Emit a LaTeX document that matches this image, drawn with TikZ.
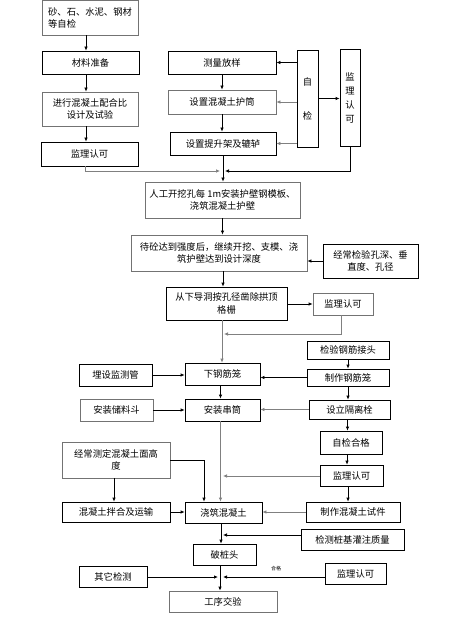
\documentclass[tikz,border=0pt]{standalone}
\usepackage{fontspec}
\setmainfont{Noto Sans CJK SC}
\usetikzlibrary{arrows.meta}
\begin{document}
\begin{tikzpicture}[x=1pt,y=-1pt,
  bx/.style={draw=black, line width=0.7pt, inner sep=1pt, font=\fontsize{9.3}{12.5}\selectfont, align=center},
  gbx/.style={bx, draw=black!55},
  ln/.style={line width=0.7pt},
  gl/.style={draw=black!50},
  arr/.style={ln, -{Latex[length=4pt,width=3.5pt]}},
  barr/.style={line width=1pt, -{Latex[length=4pt,width=3.5pt]}}]
\useasboundingbox[fill=white] (0,0) rectangle (456,620);

% junction points
\coordinate (j1L) at (220,171);
\coordinate (j1R) at (225,171);
\coordinate (j2) at (224,334);
\coordinate (j3) at (223,476);
\coordinate (j5) at (223,535);
\coordinate (j6L) at (218,577);
\coordinate (j6R) at (223,577);

% left column
\node[gbx, minimum width=96pt, minimum height=34.5pt, align=left] (A) at (90,17.75) {砂、石、水泥、钢材\\等自检};
\node[bx, minimum width=97pt, minimum height=23pt] (B) at (90.5,62.5) {材料准备};
\node[gbx, minimum width=96pt, minimum height=34pt] (C) at (90,109) {进行混凝土配合比\\设计及试验};
\node[bx, minimum width=97pt, minimum height=24pt] (D) at (89.5,154) {监理认可};

% middle top column
\node[bx, minimum width=108pt, minimum height=23pt] (E) at (222,62.5) {测量放样};
\node[gbx, minimum width=108pt, minimum height=24pt] (F) at (222,102) {设置混凝土护筒};
\node[bx, minimum width=106pt, minimum height=23pt] (G) at (223,143.5) {设置提升架及辘轳};
\node[bx, minimum width=21pt, minimum height=97pt] (H) at (307.5,98.5) {自\\[21.5pt]检};
\node[bx, minimum width=20pt, minimum height=97pt] (I) at (350,97.5) {监\\[1.5pt]理\\[1.5pt]认\\[1.5pt]可};

% main column
\node[gbx, minimum width=155pt, minimum height=36pt] (J) at (222.5,200) {人工开挖孔每 1m安装护壁钢模板、\\浇筑混凝土护壁};
\node[gbx, minimum width=176pt, minimum height=36pt] (K) at (219,253) {待砼达到强度后，继续开挖、支模、浇\\筑护壁达到设计深度};
\node[bx, minimum width=95pt, minimum height=34pt] (L) at (370.5,261) {经常检验孔深、垂\\直度、孔径};
\node[bx, minimum width=121pt, minimum height=33pt] (M) at (226.5,303.5) {从下导洞按孔径凿除拱顶\\格栅};
\node[gbx, minimum width=60pt, minimum height=22pt] (N) at (343,304) {监理认可};

\node[bx, minimum width=82pt, minimum height=18pt] (O) at (348,350) {检验钢筋接头};
\node[bx, minimum width=82pt, minimum height=17pt] (P) at (348,377.5) {制作钢筋笼};
\node[bx, minimum width=75pt, minimum height=22pt] (Q) at (222.5,374) {下钢筋笼};
\node[bx, minimum width=73pt, minimum height=22pt] (R) at (115.5,375) {埋设监测管};
\node[bx, minimum width=75pt, minimum height=22pt] (S) at (222.5,410) {安装串筒};
\node[gbx, minimum width=73pt, minimum height=22pt] (T) at (116.5,410) {安装储料斗};
\node[bx, minimum width=81pt, minimum height=19pt] (U) at (349.5,409.5) {设立隔离栓};
\node[bx, minimum width=62pt, minimum height=23pt] (V) at (351,442.5) {自检合格};
\node[gbx, minimum width=108pt, minimum height=36pt] (W) at (116,460) {经常测定混凝土面高\\度};
\node[bx, minimum width=63pt, minimum height=21pt] (X) at (351.5,475.5) {监理认可};
\node[bx, minimum width=108pt, minimum height=20pt] (Y) at (116,512) {混凝土拌合及运输};
\node[bx, minimum width=77pt, minimum height=21pt] (Z) at (223.5,512.5) {浇筑混凝土};
\node[bx, minimum width=94pt, minimum height=20pt] (zzsj) at (353,512) {制作混凝土试件};
\node[bx, minimum width=103pt, minimum height=21pt] (jczl) at (352.5,539.5) {检测桩基灌注质量};
\node[bx, minimum width=63pt, minimum height=21pt] (pzt) at (224.5,554.5) {破桩头};
\node[bx, minimum width=68pt, minimum height=21pt] (qtjc) at (113,576.5) {其它检测};
\node[bx, minimum width=61pt, minimum height=21pt] (jlrk) at (355.5,573.5) {监理认可};
\node[gbx, minimum width=108pt, minimum height=21pt] (gxjy) at (223,601.5) {工序交验};
\node[font=\fontsize{5}{6}\selectfont, inner sep=0pt] (hg) at (276,569) {合格};

% left column connectors
\draw[arr] ([xshift=-4pt]A.south) -- ([xshift=-4pt]A.south |- B.north);
\draw[arr] ([xshift=-4.5pt]B.south) -- ([xshift=-4.5pt]B.south |- C.north);
\draw[arr] ([xshift=-4pt]C.south) -- ([xshift=-4pt]C.south |- D.north);
\draw[arr, gl] ([xshift=-4.5pt]D.south) |- (j1L);

% survey column
\draw[arr] (E.south) -- (E.south |- F.north);
\draw[arr] (F.south) -- (F.south |- G.north);
\draw[arr] (H.west |- E.east) -- (E.east);
\draw[arr, gl] (H.west |- F.east) -- (F.east);
\draw[arr, gl] (H.west |- G.east) -- (G.east);
\draw[arr] (H.east) -- (H.east -| I.west);
\draw[arr] (I.south) |- (j1R);
\draw[arr] (G.south) -- (G.south |- J.north);

% main line
\draw[arr] (J.south) -- (J.south |- K.north);
\draw[arr] (L.west) -- (L.west -| K.east);
\draw[arr] ([xshift=4pt]K.south) -- ([xshift=4pt]K.south |- M.north);
\draw[arr] (M.east |- N.west) -- (N.west);
\draw[arr, gl] ([xshift=-2pt]N.south) |- (j2);
\draw[arr, gl] ([xshift=-4.5pt]M.south) -- ([xshift=-4.5pt]M.south |- Q.north);

\draw[arr] (R.east) -- (R.east -| Q.west);
\draw[arr] (P.west) -- (P.west -| Q.east);
\draw[arr] (O.south) -- (O.south |- P.north);
\draw[arr] (P.south) -- (P.south |- U.north);
\draw[arr] ([xshift=-2pt]Q.south) -- ([xshift=-2pt]Q.south |- S.north);
\draw[arr] (T.east) -- (T.east -| S.west);
\draw[arr, gl] (U.west) -- (U.west -| S.east);
\draw[arr] ([xshift=-2pt]U.south) -- ([xshift=-2pt]U.south |- V.north);
\draw[arr] ([xshift=-4pt]V.south) -- ([xshift=-4pt]V.south |- X.north);
\draw[arr, gl] (X.west |- j3) -- (j3);
\draw[arr, gl] ([xshift=-2pt]S.south) -- ([xshift=-2pt]S.south |- Z.north);
\draw[arr] (W.east) -| ([xshift=-19.5pt]Z.north);
\draw[arr] ([xshift=-2pt]W.south) -- ([xshift=-2pt]W.south |- Y.north);
\draw[arr] (Y.east) -- (Y.east -| Z.west);
\draw[arr, gl] (zzsj.west) -- (zzsj.west -| Z.east);
\draw[arr] ([xshift=-3.5pt]X.south) -- ([xshift=-3.5pt]X.south |- zzsj.north);
\draw[arr] ([xshift=-2.5pt]Z.south) -- ([xshift=-2.5pt]Z.south |- pzt.north);
\draw[arr] (jczl.west |- j5) -- (j5);
\draw[barr] ([xshift=-4.5pt]pzt.south) -- ([xshift=-4.5pt]pzt.south |- gxjy.north);
\draw[barr] (qtjc.east |- j6L) -- (j6L);
\draw[barr] (jlrk.west |- j6R) -- (j6R);
\end{tikzpicture}
\end{document}
